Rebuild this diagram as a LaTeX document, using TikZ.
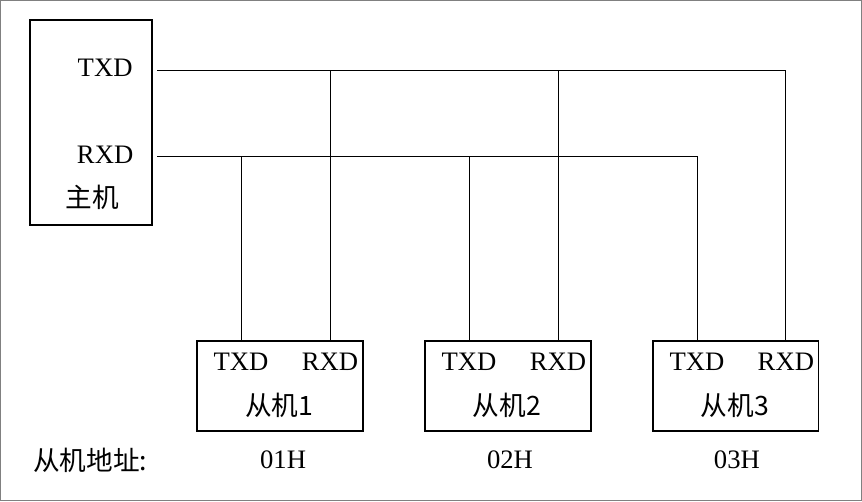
\documentclass[tikz,border=0pt]{standalone}
\usepackage{fontspec}
\setmainfont{Liberation Serif}
\newfontfamily\cjk{Noto Sans CJK SC}
\usetikzlibrary{positioning}
\tikzset{
    box/.style={draw,line width=1.2pt},
    lbl/.style={font=\fontsize{20}{22}\selectfont,inner sep=0pt},
    wire/.style={line width=0.6pt}
}

\begin{document}
\begin{tikzpicture}[x=0.75pt,y=-0.75pt]
\draw[gray,line width=1pt] (0.5,0.5) rectangle (861.5,500.5);
\useasboundingbox (0,0) rectangle (862,501);

\draw[box] (30,20) rectangle (152,225);
\node[lbl] (mtxd) at (105,68) {TXD};
\node[lbl] (mrxd) at (105,155) {RXD};
\node[lbl] (host) at (92,197) {\cjk 主机};
\coordinate (mt) at (157,70);
\coordinate (mr) at (157,156);

\foreach \i/\x in {1/196,2/424,3/652} {
  \node[box,minimum width=124.5pt,minimum height=67.5pt,anchor=north west,inner sep=0pt] (s\i) at (\x,340) {};
  \node[lbl] (s\i t) at (\x+45,362) {TXD};
  \node[lbl] (s\i r) at (\x+134,362) {RXD};
  \node[lbl] (s\i n) at (\x+83,405) {\cjk 从机\i};
}
\node[lbl] at (90,460) {\cjk 从机地址:};
\node[lbl] (a1) at (283,460) {01H};
\node[lbl] (a2) at (510,460) {02H};
\node[lbl] (a3) at (737,460) {03H};

% bus lines
\draw[wire] (mt) -| (s3.north -| s3r);
\draw[wire] (mr) -| (s3.north -| s3t);
\foreach \i in {1,2} {
  \draw[wire] (s\i.north -| s\i r) -- (mt -| s\i r);
  \draw[wire] (s\i.north -| s\i t) -- (mr -| s\i t);
}
\end{tikzpicture}
\end{document}
